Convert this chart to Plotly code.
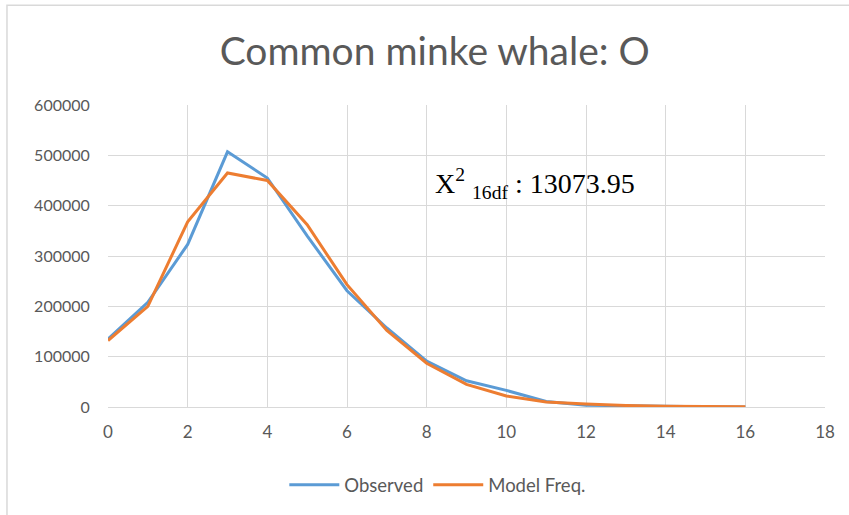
import plotly.graph_objects as go

x_vals = list(range(17))
observed = [135000, 208000, 323000, 507000, 455000, 340000, 231000, 157000, 91000,
            52000, 33000, 11000, 3500, 2000, 1000, 500, 200]
model = [132000, 200000, 368000, 465000, 450000, 362000, 243000, 152000, 87000,
         45000, 22000, 10000, 6000, 3000, 1500, 800, 300]
title_text = "Common minke whale: O"
stat_text = "X<sup>2</sup> <sub>16df</sub> : 13073.95"

grey = "#595959"
fig = go.Figure()
fig.add_trace(go.Scatter(x=x_vals, y=observed, mode="lines", name="Observed",
                         line=dict(color="#5B9BD5", width=3)))
fig.add_trace(go.Scatter(x=x_vals, y=model, mode="lines", name="Model Freq.",
                         line=dict(color="#ED7D31", width=3)))

fig.update_layout(
    width=849, height=515,
    margin=dict(l=108, r=24, t=105, b=107),
    paper_bgcolor="white", plot_bgcolor="white",
    font=dict(family="Lato", color=grey, size=16),
    title=dict(text=title_text, x=0.512, xanchor="center", y=0.9, yanchor="middle",
               font=dict(family="Lato", size=39, color=grey)),
    xaxis=dict(range=[0, 18], dtick=2, showgrid=True, gridcolor="#d9d9d9", gridwidth=1,
               zeroline=False, showline=True, linecolor="#d9d9d9", linewidth=1,
               ticks="outside", ticklen=10, tickcolor="rgba(0,0,0,0)",
               tickfont=dict(size=17, color=grey)),
    yaxis=dict(range=[0, 600000], dtick=100000, showgrid=True, gridcolor="#d9d9d9",
               gridwidth=1, zeroline=False, showline=False, tickformat="d",
               ticks="outside", ticklen=14, tickcolor="rgba(0,0,0,0)",
               tickfont=dict(size=16, color=grey)),
    legend=dict(orientation="h", x=0.46, xanchor="center", y=-0.255, yanchor="middle",
                font=dict(size=18.5, color=grey), itemwidth=50),
    showlegend=True,
)

fig.add_annotation(x=8.15, y=444000, xref="x", yref="y", text=stat_text,
                   showarrow=False, xanchor="left", yanchor="middle",
                   font=dict(family="Liberation Serif", size=28, color="black"))

fig.add_shape(type="rect", xref="paper", yref="paper",
              x0=-0.1409, x1=1.05, y0=-0.40, y1=1.330,
              line=dict(color="#d9d9d9", width=1.5), fillcolor="rgba(0,0,0,0)", layer="below")

fig.write_html("out.html", config={"displayModeBar": False},
               post_script="document.body.style.margin='0';")
